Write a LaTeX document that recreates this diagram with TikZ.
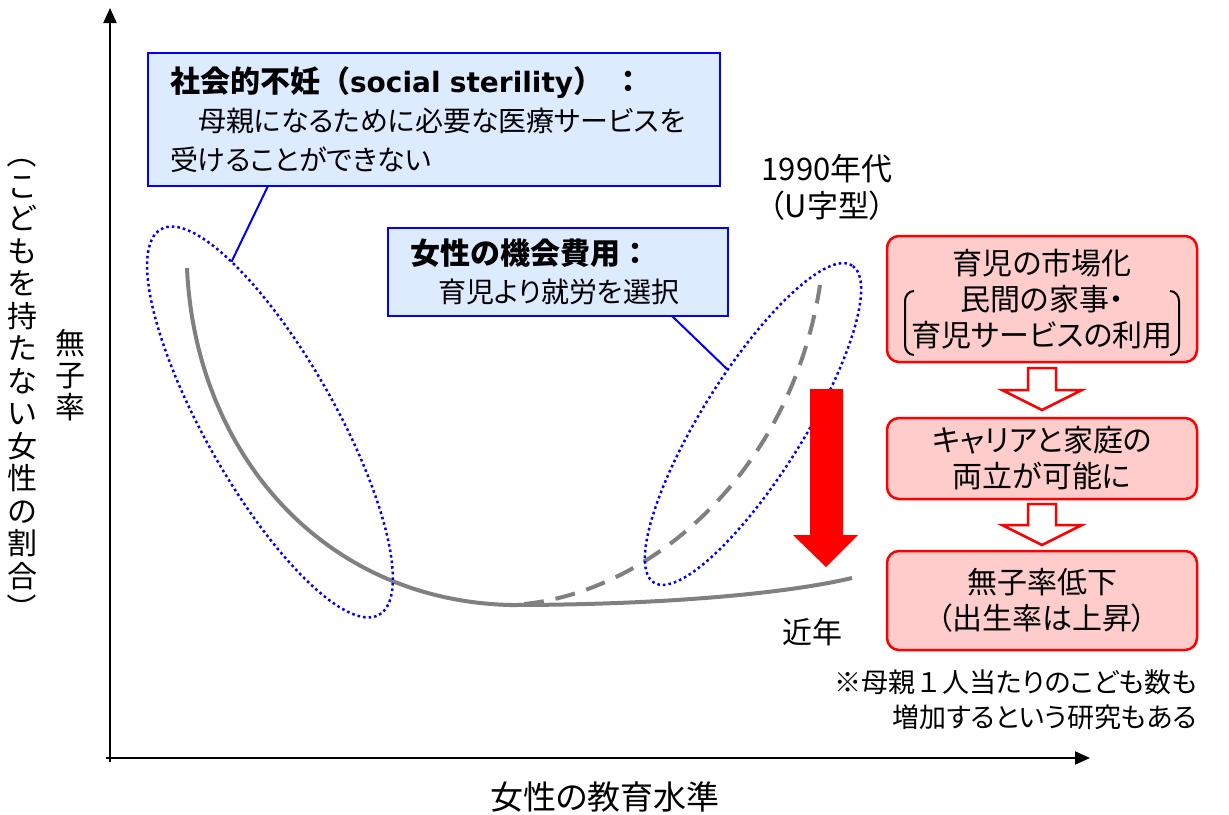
\documentclass[tikz,border=0pt]{standalone}
\usepackage{fontspec}
\setmainfont{Noto Sans CJK JP}[RawFeature=+palt]
\newfontfamily\vfont{Noto Sans CJK JP}
\newfontfamily\latbold{DejaVu Sans}
\usetikzlibrary{calc,shapes.geometric,arrows.meta}
\definecolor{bxblue}{RGB}{0,0,255}
\definecolor{bxfill}{RGB}{221,235,255}
\definecolor{pinkfill}{RGB}{255,204,204}
\definecolor{curvegray}{RGB}{128,128,128}
\tikzset{
  txt/.style={inner sep=0pt, outer sep=0pt, align=center, font=\fontsize{30}{37}\selectfont},
  bluebox/.style={draw=bxblue, fill=bxfill, line width=2.5pt, inner xsep=22pt, inner ysep=0pt, outer sep=0pt, align=left},
  redbox/.style={draw=red, fill=pinkfill, line width=2.5pt, rounded corners=12pt, minimum width=310pt, inner sep=0pt, outer sep=0pt, align=center, font=\fontsize{30}{36}\selectfont},
  dotell/.style={draw=bxblue, ellipse, line width=2.5pt, dash pattern=on 2.6pt off 3pt, inner sep=0pt, outer sep=0pt},
  conn/.style={draw=bxblue, line width=2pt},
  curve/.style={draw=curvegray, line width=4pt},
  axis/.style={draw=black, line width=2pt, -{Triangle[length=15pt,width=13pt]}},
  hollow/.style={draw=red, fill=white, line width=2.5pt, line join=miter},
}
\newcommand{\ttl}[1]{{\vfont\bfseries\fontsize{30}{39}\selectfont #1}}
\begin{document}
\begin{tikzpicture}[x=1pt,y=-1pt]
\useasboundingbox (0,0) rectangle (1229,814);
% axes
\coordinate (O) at (110,758);
\coordinate (ytip) at (110,8);
\coordinate (xtip) at (1090,758);
\draw[axis] ([yshift=-4pt]O) -- (ytip);
\draw[axis] ([xshift=-4pt]O) -- (xtip);
\node[txt, font=\fontsize{33}{33}\selectfont] (xlab) at (605,797) {女性の教育水準};
\node[txt, font=\vfont\fontsize{30}{32.5}\selectfont] (ylab) at (22,381) {\rotatebox[origin=c]{-90}{（}\\こ\\ど\\も\\を\\持\\た\\な\\い\\女\\性\\の\\割\\合\\\rotatebox[origin=c]{-90}{）}};
\node[txt, font=\vfont\fontsize{30}{32}\selectfont] (ylab2) at (70,375) {無\\子\\率};
% curves
\draw[curve] (187,268) .. controls (195,450) and (320,600) .. (510,605) .. controls (650,605) and (780,595) .. (852,578);
\draw[curve, dash pattern=on 20pt off 12pt, dash phase=-14pt] (510,605) .. controls (640,600) and (790,480) .. (820,285);
% ellipses
\node[dotell, minimum width=443pt, minimum height=130pt, rotate=-60.5] (e1) at (270,422) {};
\node[dotell, minimum width=374pt, minimum height=102pt, rotate=58] (e2) at (753,424) {};
% blue boxes
\node[bluebox, minimum width=572pt, minimum height=133pt, text width=528pt, font=\fontsize{28}{39}\selectfont] (b1) at (434,119.5)
  {\ttl{社会的不妊（{\latbold\fontsize{28}{39}\selectfont social sterility}）\hspace{10pt}：}\\　母親になるために必要な医療サービスを\\受けることができない};
\node[bluebox, minimum width=340pt, minimum height=88pt, text width=296pt, font=\fontsize{28}{38}\selectfont] (b2) at (558,272)
  {\ttl{女性の機会費用：}\\　育児より就労を選択};
\draw[conn] ($(b1.south west)+(120,0)$) -- (e1.164);
\draw[conn] ($(b2.south west)+(284,0)$) -- (e2.57);
% labels
\node[txt, font=\fontsize{31}{37}\selectfont] (y1990) at (827,187) {1990年代\\（U字型）};
\node[txt] (recent) at (812,632) {近年};
% red arrow
\fill[red] (810,389) -- (843,389) -- (843,535) -- (858,535) -- (826,567) -- (793,535) -- (810,535) -- cycle;
% red boxes
\node[redbox, minimum height=126pt] (rA) at (1042,299) {育児の市場化\\民間の家事・\\育児サービスの利用};
\node[redbox, minimum height=81pt] (rB) at (1042,458.5) {キャリアと家庭の\\両立が可能に};
\node[redbox, minimum height=99pt] (rC) at (1042,600.5) {無子率低下\\（出生率は上昇）};
% brackets
\draw[line width=2pt] (914,291) to[out=180,in=90] (905,301) -- (905,345) to[out=-90,in=180] (914,355);
\draw[line width=2pt] (1170,291) to[out=0,in=90] (1179,301) -- (1179,345) to[out=-90,in=0] (1170,355);
% hollow arrows
\filldraw[hollow] (1028,368) -- (1056,368) -- (1056,390) -- (1082,390) -- (1042,410) -- (1002,390) -- (1028,390) -- cycle;
\filldraw[hollow] (1028,504) -- (1056,504) -- (1056,525) -- (1082,525) -- (1042,545) -- (1002,525) -- (1028,525) -- cycle;
% note
\node[txt, align=right, anchor=east, font=\fontsize{27}{35}\selectfont] (note) at (1197,700) {※母親{\vfont １}人当たりのこども数も\\増加するという研究もある};
\end{tikzpicture}
\end{document}
